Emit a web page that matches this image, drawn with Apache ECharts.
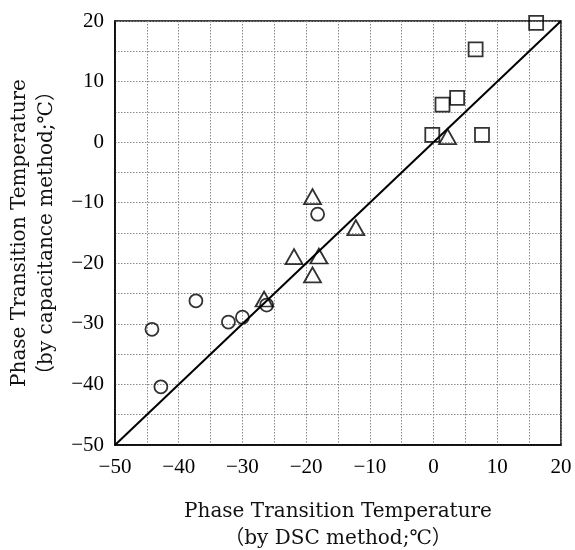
<!DOCTYPE html>
<html>
<head>
<meta charset="utf-8">
<script src="https://cdn.jsdelivr.net/npm/echarts@6/dist/echarts.min.js"></script>
<style>
  html, body { margin: 0; padding: 0; background: #fff; }
  #main { width: 575px; height: 550px; }
</style>
</head>
<body>
<div id="main"></div>
<script>
// DSC 法 (x) と 容量法 (y) の相転移温度
var squarePts = [[16.1, 19.7], [6.6, 15.3], [3.7, 7.3], [1.4, 6.2], [-0.2, 1.2], [7.6, 1.2]];
var trianglePts = [[2.2, 0.9], [-19.0, -9.0], [-12.2, -14.1], [-21.9, -18.9], [-18.0, -18.8], [-19.0, -21.9], [-26.6, -25.9]];
var circlePts = [[-18.2, -11.9], [-37.3, -26.2], [-26.2, -26.9], [-44.2, -30.9], [-32.2, -29.7], [-30.0, -28.9], [-42.8, -40.4]];
var axisRange = [-50, 20];   // y = x line ends

var chart = echarts.init(document.getElementById('main'));

var serif = 'DejaVu Serif, Liberation Serif, Noto Sans CJK JP, serif';
var tickFont = 'Liberation Serif, DejaVu Serif, serif';

function minusFmt(v) {
  return String(v).replace('-', '\u2212');
}

var hollow = {
  color: 'transparent',
  borderColor: '#000',
  borderWidth: 1.8
};

var gridLine = {
  show: true,
  lineStyle: { color: '#8a8a8a', type: [1.5, 1.5], width: 1 }
};

function valueAxis(nameText, gap) {
  return {
    type: 'value',
    min: axisRange[0],
    max: axisRange[1],
    interval: 10,
    name: nameText,
    nameLocation: 'middle',
    nameGap: gap,
    nameTextStyle: { fontFamily: serif, fontSize: 20, color: '#111', lineHeight: 27 },
    axisLine: { show: true, onZero: false, lineStyle: { color: '#000', width: 1.5 } },
    axisTick: { show: false },
    minorTick: { show: false, splitNumber: 2 },
    splitLine: gridLine,
    minorSplitLine: gridLine,
    axisLabel: {
      fontFamily: tickFont,
      fontSize: 21,
      color: '#000',
      formatter: minusFmt
    }
  };
}

var option = {
  animation: false,
  grid: {
    left: 115, right: 14, top: 21, bottom: 105,
    containLabel: false,
    outerBoundsMode: 'none',
    show: true,
    borderColor: '#000',
    borderWidth: 1.5,
    backgroundColor: 'transparent'
  },
  xAxis: valueAxis('Phase Transition Temperature\n\uff08by DSC method;\u2103\uff09', 53),
  yAxis: valueAxis('Phase Transition Temperature\n\uff08by capacitance method;\u2103\uff09', 55),
  series: [
    {
      type: 'line',
      data: [[axisRange[0], axisRange[0]], [axisRange[1], axisRange[1]]],
      symbol: 'none',
      lineStyle: { color: '#000', width: 2 },
      silent: true,
      z: 1
    },
    {
      type: 'scatter',
      data: circlePts,
      symbol: 'circle',
      symbolSize: 13,
      itemStyle: hollow,
      z: 3
    },
    {
      type: 'scatter',
      data: trianglePts,
      symbol: 'triangle',
      symbolSize: [17, 15],
      itemStyle: hollow,
      z: 3
    },
    {
      type: 'scatter',
      data: squarePts,
      symbol: 'rect',
      symbolSize: 14,
      itemStyle: hollow,
      z: 3
    }
  ]
};

option.yAxis.axisLabel.margin = 11;
option.xAxis.axisLabel.margin = 12;

chart.setOption(option);
</script>
</body>
</html>
